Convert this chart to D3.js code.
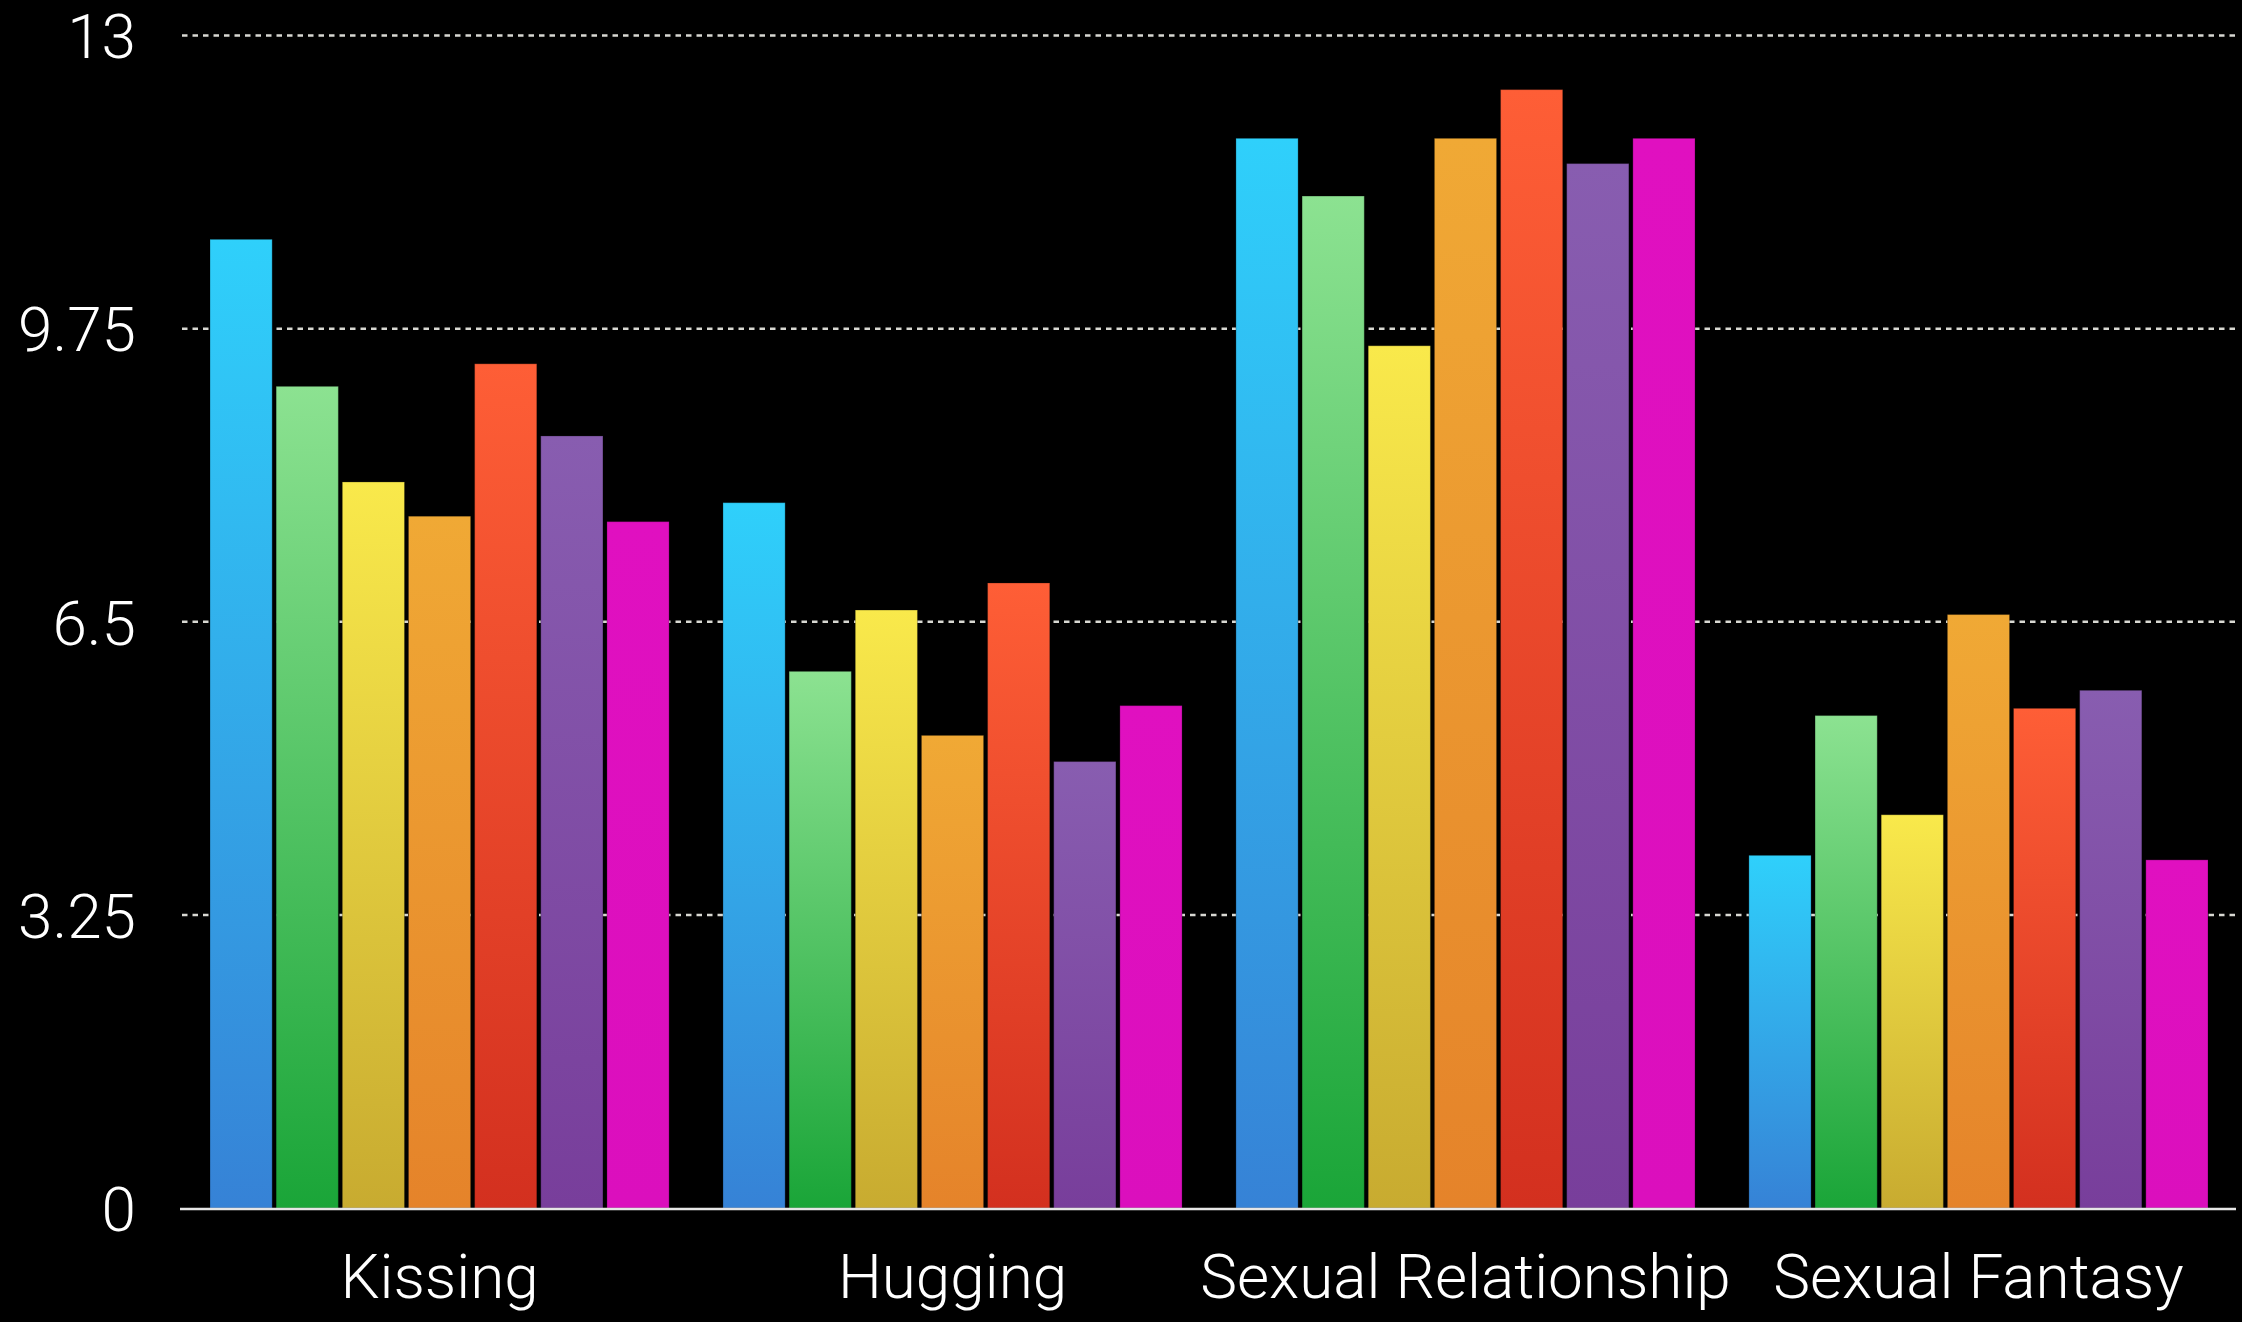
<!DOCTYPE html>
<html>
<head>
<meta charset="utf-8">
<script src="https://cdn.jsdelivr.net/npm/d3@7"></script>
<style>
  html, body { margin: 0; padding: 0; background: #000; }
  svg { display: block; }
  text { font-family: Roboto, "Helvetica Neue", "Liberation Sans", sans-serif; font-weight: 300; fill: #fff; }
</style>
</head>
<body>
<script>
const categories = ["Kissing", "Hugging", "Sexual Relationship", "Sexual Fantasy"];
const seriesNames = ["s1", "s2", "s3", "s4", "s5", "s6", "s7"];
const s1 = [10.74, 7.82, 11.86, 3.91];
const s2 = [9.11, 5.95, 11.22, 5.46];
const s3 = [8.05, 6.63, 9.56, 4.36];
const s4 = [7.67, 5.24, 11.86, 6.58];
const s5 = [9.36, 6.93, 12.40, 5.54];
const s6 = [8.56, 4.95, 11.58, 5.74];
const s7 = [7.61, 5.57, 11.86, 3.86];
const seriesValues = [s1, s2, s3, s4, s5, s6, s7];
const tickValues = [0, 3.25, 6.5, 9.75, 13];
const tickLabels = ["0", "3.25", "6.5", "9.75", "13"];
const gradTop = ["#2fd0fb", "#8ce291", "#f9e94b", "#f0a935", "#fe5e36", "#885db0", "#e010c0"];
const gradBottom = ["#3682d6", "#1aa538", "#c8ab30", "#e5832a", "#d3301f", "#783e9b", "#db0fbd"];

const W = 2242, H = 1322;
const svg = d3.select("body").append("svg").attr("width", W).attr("height", H);

const y = d3.scaleLinear().domain([0, 13]).range([1208, 35.5]);
const x0 = d3.scaleBand().domain(categories).range([210, 2208]).paddingInner(0.105).paddingOuter(0);
const x1 = d3.scaleBand().domain(seriesNames).range([0, x0.bandwidth()]).paddingInner(0.06).paddingOuter(0);

const defs = svg.append("defs");
seriesNames.forEach((s, i) => {
  const g = defs.append("linearGradient").attr("id", "g" + i)
    .attr("x1", 0).attr("y1", 0).attr("x2", 0).attr("y2", 1);
  g.append("stop").attr("offset", "0%").attr("stop-color", gradTop[i]);
  g.append("stop").attr("offset", "100%").attr("stop-color", gradBottom[i]);
});

// gridlines
svg.append("g").selectAll("line")
  .data(tickValues.filter(d => d !== 0))
  .join("line")
  .attr("x1", 182).attr("x2", 2236)
  .attr("y1", d => y(d)).attr("y2", d => y(d))
  .attr("stroke", "#d8d8d2").attr("stroke-width", 2.5)
  .attr("stroke-dasharray", "5.5,5");

// bars
const groups = svg.append("g").selectAll("g")
  .data(categories)
  .join("g")
  .attr("transform", d => `translate(${x0(d)},0)`);

groups.selectAll("rect")
  .data((c, ci) => seriesNames.map((s, si) => ({ s, si, v: seriesValues[si][ci] })))
  .join("rect")
  .attr("x", d => x1(d.s))
  .attr("width", x1.bandwidth())
  .attr("y", d => y(d.v))
  .attr("height", d => y(0) - y(d.v))
  .attr("fill", d => `url(#g${d.si})`)
  .attr("stroke", "rgba(0,0,0,0.25)")
  .attr("stroke-width", 1);

// baseline
svg.append("line")
  .attr("x1", 180).attr("x2", 2236)
  .attr("y1", y(0) + 1).attr("y2", y(0) + 1)
  .attr("stroke", "#e6e6e6").attr("stroke-width", 2.5);

// y axis labels
const yAxis = d3.axisLeft(y).tickValues(tickValues)
  .tickFormat((d, i) => tickLabels[i]).tickSize(0).tickPadding(0);
const ya = svg.append("g").attr("transform", "translate(136,0)").call(yAxis);
ya.select(".domain").remove();
ya.selectAll("text")
  .attr("font-size", 62)
  .attr("dy", "0.36em")
  .style("font-family", "Roboto, 'Helvetica Neue', sans-serif")
  .style("font-weight", 300)
  .attr("fill", "#fff");

// x axis labels
const xAxis = d3.axisBottom(x0).tickSize(0).tickPadding(0);
const xa = svg.append("g").attr("transform", `translate(0,1298)`).call(xAxis);
xa.select(".domain").remove();
xa.selectAll("text")
  .attr("font-size", 62)
  .attr("dy", 0)
  .attr("y", 0)
  .style("font-family", "Roboto, 'Helvetica Neue', sans-serif")
  .style("font-weight", 300)
  .attr("fill", "#fff");
</script>
</body>
</html>
